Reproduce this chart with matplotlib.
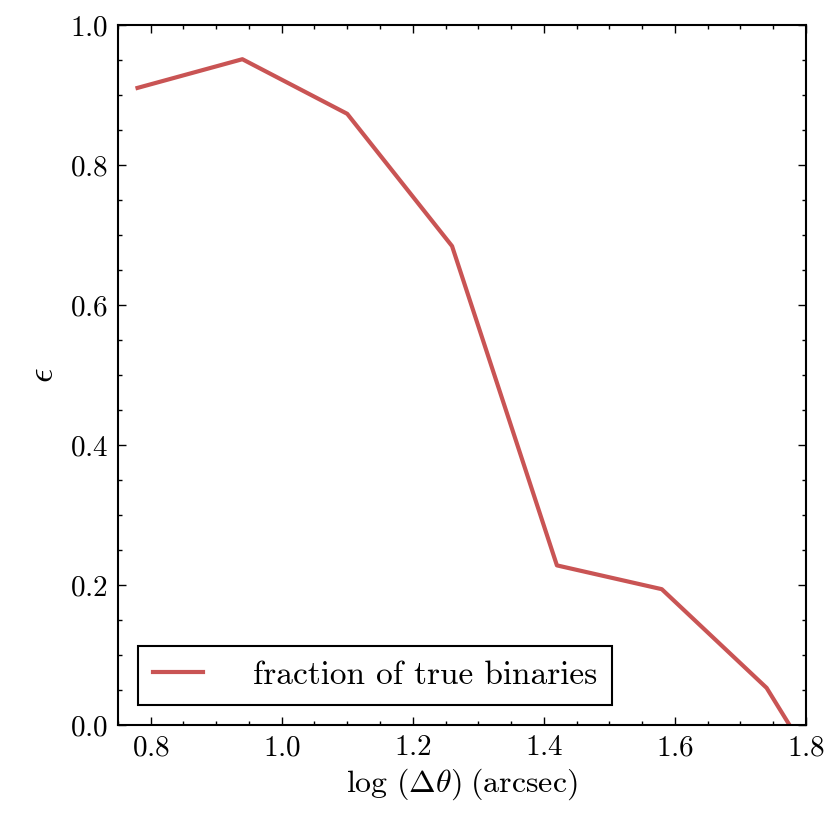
import matplotlib
matplotlib.use("Agg")
import matplotlib.pyplot as plt
from matplotlib.ticker import MultipleLocator

plt.rcParams["font.family"] = "serif"
plt.rcParams["font.serif"] = ["cmr10", "DejaVu Serif"]
plt.rcParams["mathtext.fontset"] = "cm"
plt.rcParams["axes.formatter.use_mathtext"] = True

# dados
log_sep = [0.78, 0.94, 1.10, 1.26, 1.42, 1.58, 1.74, 1.90]
frac_true = [0.910, 0.951, 0.873, 0.684, 0.228, 0.194, 0.053, -0.19]

VERMELHO = "#C95454"

fig = plt.figure(figsize=(8.3, 8.3), dpi=100)
ax = fig.add_axes([0.142, 0.1265, 0.829, 0.8435])

ax.plot(log_sep, frac_true, color=VERMELHO, lw=3.0, label="fraction of true binaries")

ax.set_xlim(0.75, 1.8)
ax.set_ylim(0.0, 1.0)
ax.xaxis.set_major_locator(MultipleLocator(0.2))
ax.xaxis.set_minor_locator(MultipleLocator(0.05))
ax.yaxis.set_major_locator(MultipleLocator(0.2))
ax.yaxis.set_minor_locator(MultipleLocator(0.05))
ax.tick_params(which="both", direction="in", top=True, right=True, width=1.0)
ax.tick_params(which="major", length=6, labelsize=21, pad=7)
ax.tick_params(which="minor", length=3)
for s in ax.spines.values():
    s.set_linewidth(1.5)

ax.set_xlabel(r"$\log\,(\Delta\theta)\;(\mathrm{arcsec})$", fontsize=23, labelpad=4)
ax.set_ylabel(r"$\epsilon$", fontsize=26, labelpad=7)

leg = ax.legend(loc="lower left", fontsize=24, fancybox=False, handlelength=1.5,
                handletextpad=1.5, borderpad=0.45, borderaxespad=0.6)
leg.get_frame().set_edgecolor("black")
leg.get_frame().set_linewidth(1.5)
leg.get_frame().set_alpha(1)

fig.savefig("out.png", dpi=100)
